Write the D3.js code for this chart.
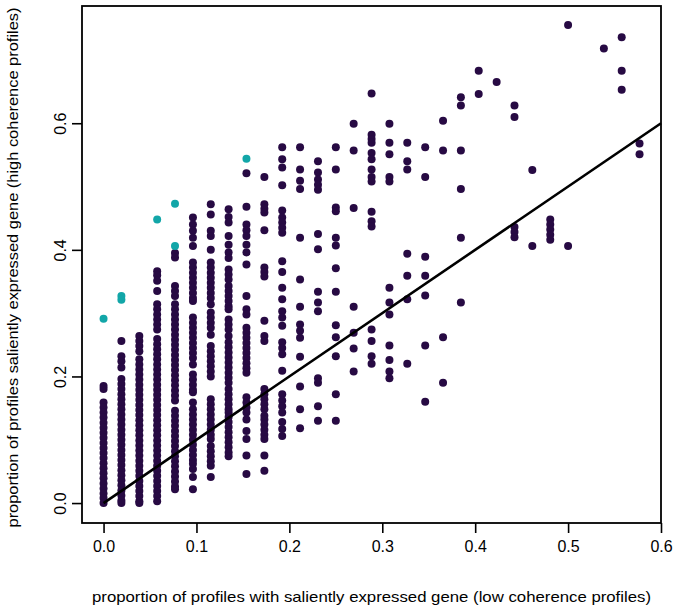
<!DOCTYPE html>
<html><head><meta charset="utf-8">
<script src="https://cdn.jsdelivr.net/npm/d3@7"></script>
<style>body{margin:0;background:#fff}svg{display:block}</style>
</head><body><svg id="c" width="675" height="611"></svg>
<script>
// x value (low coherence proportion) for each column of points
const lowProps = [0, 0.0192, 0.0385, 0.0577, 0.0769, 0.0962, 0.1154, 0.1346, 0.1538, 0.1731,
  0.1923, 0.2115, 0.2308, 0.25, 0.2692, 0.2885, 0.3077, 0.3269, 0.3462, 0.3654,
  0.3846, 0.4038, 0.4231, 0.4423, 0.4615, 0.4808, 0.5, 0.5385, 0.5577, 0.5769];
// y values (high coherence proportion) in each column
const highProps = [
  [0.185,0.180,0.159,0.151,0.143,0.135,0.127,0.119,0.111,0.103,0.095,0.087,0.079,0.071,0.063,0.055,0.047,0.039,0.031,0.023,0.015,0.008,0.0],
  [0.256,0.232,0.224,0.214,0.196,0.188,0.180,0.172,0.164,0.156,0.148,0.140,0.132,0.124,0.116,0.108,0.100,0.092,0.084,0.076,0.068,0.060,0.052,0.044,0.036,0.028,0.020,0.012,0.004,0.0],
  [0.264,0.256,0.248,0.240,0.227,0.219,0.211,0.203,0.195,0.187,0.179,0.171,0.163,0.155,0.147,0.139,0.131,0.123,0.115,0.107,0.099,0.091,0.083,0.075,0.067,0.059,0.051,0.043,0.035,0.027,0.019,0.011,0.003,0.0],
  [0.366,0.360,0.351,0.335,0.314,0.306,0.298,0.290,0.282,0.274,0.259,0.251,0.243,0.235,0.227,0.219,0.211,0.203,0.195,0.187,0.179,0.171,0.163,0.155,0.147,0.139,0.131,0.123,0.115,0.107,0.099,0.091,0.083,0.075,0.067,0.059,0.051,0.043,0.035,0.027,0.019,0.011,0.003],
  [0.395,0.388,0.343,0.335,0.327,0.314,0.306,0.298,0.290,0.282,0.274,0.266,0.258,0.250,0.242,0.234,0.226,0.218,0.210,0.202,0.194,0.186,0.178,0.170,0.162,0.146,0.138,0.130,0.122,0.114,0.106,0.098,0.090,0.082,0.074,0.066,0.058,0.050,0.042,0.034,0.026,0.022],
  [0.451,0.440,0.430,0.419,0.406,0.380,0.372,0.364,0.356,0.348,0.340,0.332,0.324,0.319,0.293,0.285,0.277,0.269,0.261,0.253,0.245,0.237,0.229,0.219,0.203,0.195,0.187,0.179,0.175,0.159,0.148,0.140,0.132,0.124,0.116,0.108,0.100,0.092,0.084,0.076,0.068,0.062,0.054,0.041,0.022],
  [0.472,0.456,0.430,0.422,0.400,0.380,0.372,0.364,0.356,0.348,0.340,0.332,0.324,0.314,0.301,0.293,0.285,0.277,0.266,0.248,0.240,0.232,0.224,0.216,0.208,0.200,0.164,0.156,0.148,0.140,0.132,0.124,0.116,0.108,0.101,0.090,0.082,0.074,0.066,0.059,0.041],
  [0.464,0.452,0.443,0.422,0.408,0.396,0.387,0.369,0.361,0.353,0.343,0.335,0.327,0.319,0.311,0.306,0.290,0.282,0.274,0.264,0.254,0.246,0.238,0.230,0.222,0.214,0.206,0.198,0.190,0.180,0.172,0.164,0.156,0.148,0.143,0.136,0.128,0.120,0.112,0.104,0.096,0.088,0.080,0.074],
  [0.521,0.468,0.440,0.431,0.422,0.408,0.396,0.377,0.327,0.306,0.298,0.277,0.269,0.261,0.253,0.245,0.237,0.229,0.221,0.213,0.206,0.167,0.159,0.151,0.143,0.132,0.114,0.101,0.075,0.046],
  [0.515,0.472,0.465,0.459,0.431,0.372,0.365,0.358,0.288,0.264,0.256,0.180,0.172,0.164,0.156,0.148,0.138,0.132,0.124,0.116,0.108,0.101,0.075,0.051],
  [0.562,0.543,0.530,0.502,0.462,0.451,0.443,0.435,0.427,0.382,0.365,0.340,0.322,0.303,0.293,0.280,0.254,0.245,0.235,0.209,0.172,0.162,0.153,0.143,0.128,0.117,0.106],
  [0.562,0.527,0.509,0.496,0.419,0.353,0.310,0.282,0.272,0.261,0.231,0.184,0.148,0.118],
  [0.540,0.522,0.511,0.503,0.495,0.425,0.401,0.334,0.317,0.303,0.197,0.190,0.153,0.130],
  [0.562,0.527,0.467,0.461,0.419,0.407,0.371,0.334,0.281,0.262,0.232,0.172,0.130],
  [0.599,0.557,0.466,0.310,0.269,0.244,0.208],
  [0.647,0.582,0.575,0.569,0.553,0.543,0.527,0.515,0.508,0.460,0.445,0.437,0.274,0.256,0.232,0.220],
  [0.599,0.569,0.551,0.515,0.508,0.340,0.317,0.298,0.249,0.226,0.208,0.197],
  [0.569,0.540,0.527,0.394,0.359,0.322,0.220],
  [0.562,0.515,0.389,0.359,0.328,0.249,0.160],
  [0.604,0.557,0.262,0.190],
  [0.641,0.628,0.557,0.496,0.419,0.317],
  [0.683,0.646],
  [0.665],
  [0.628,0.610,0.436,0.428,0.420],
  [0.526,0.406],
  [0.448,0.440,0.432,0.424,0.416],
  [0.755,0.406],
  [0.718],
  [0.736,0.683,0.653],
  [0.568,0.551]
];
// highlighted (cyan) genes
const outlierLow  = [0, 0.0192, 0.0192, 0.0577, 0.0769, 0.0769, 0.1538];
const outlierHigh = [0.291, 0.327, 0.321, 0.448, 0.473, 0.406, 0.544];
// reference line y = x
const lineX = [0, 0.6];
const lineY = [0, 0.6];
const xTicks = [0, 0.1, 0.2, 0.3, 0.4, 0.5, 0.6];
const yTicks = [0, 0.2, 0.4, 0.6];
const xTitle = "proportion of profiles with saliently expressed gene (low coherence profiles)";
const yTitle = "proportion of profiles saliently expressed gene (high coherence profiles)";

const svg = d3.select("#c");
const L = 82, R = 661, T = 6, B = 523;
const x = d3.scaleLinear().domain([-0.0232, 0.6]).range([L, R]);
const y = d3.scaleLinear().domain([-0.0315, 0.7852]).range([B, T]);
const font = "'Liberation Sans', Arial, Helvetica, sans-serif";

const pts = [];
lowProps.forEach((lx, i) => highProps[i].forEach(hy => pts.push([lx, hy])));
const hl = outlierLow.map((d, i) => [d, outlierHigh[i]]);

svg.append("g").selectAll("circle").data(pts).join("circle")
  .attr("cx", d => x(d[0])).attr("cy", d => y(d[1])).attr("r", 4)
  .attr("fill", "#270a43");
svg.append("g").selectAll("circle").data(hl).join("circle")
  .attr("cx", d => x(d[0])).attr("cy", d => y(d[1])).attr("r", 4)
  .attr("fill", "#12a6a8");

svg.append("path")
  .attr("d", d3.line()(lineX.map((d, i) => [x(d), y(lineY[i])])))
  .attr("stroke", "#000").attr("stroke-width", 2.6).attr("fill", "none");

svg.append("rect").attr("x", L).attr("y", T).attr("width", R - L).attr("height", B - T)
  .attr("fill", "none").attr("stroke", "#000").attr("stroke-width", 1.8);

const xa = svg.append("g").attr("transform", `translate(0,${B})`)
  .call(d3.axisBottom(x).tickValues(xTicks).tickFormat(d3.format(".1f")).tickSize(10).tickPadding(8));
xa.select(".domain").remove();
xa.selectAll("line").attr("stroke", "#000").attr("stroke-width", 1.6);
xa.selectAll("text").attr("font-family", font).attr("font-size", 16).attr("fill", "#000");

const ya = svg.append("g").attr("transform", `translate(${L},0)`)
  .call(d3.axisLeft(y).tickValues(yTicks).tickFormat(d3.format(".1f")).tickSize(10).tickPadding(8));
ya.select(".domain").remove();
ya.selectAll("line").attr("stroke", "#000").attr("stroke-width", 1.6);
ya.selectAll("text").attr("font-family", font).attr("font-size", 16).attr("fill", "#000")
  .attr("text-anchor", "middle").attr("dy", null).attr("x", null)
  .attr("transform", "translate(-20,0) rotate(-90)").attr("y", 0).attr("dominant-baseline", "middle");

svg.append("text").attr("x", (L + R) / 2).attr("y", 602)
  .attr("text-anchor", "middle").attr("font-family", font).attr("font-size", 15)
  .attr("textLength", 559).attr("lengthAdjust", "spacingAndGlyphs").text(xTitle);
svg.append("text").attr("transform", `translate(18,${(T + B) / 2 + 3}) rotate(-90)`)
  .attr("text-anchor", "middle").attr("font-family", font).attr("font-size", 15)
  .attr("textLength", 520).attr("lengthAdjust", "spacingAndGlyphs").text(yTitle);
</script></body></html>
